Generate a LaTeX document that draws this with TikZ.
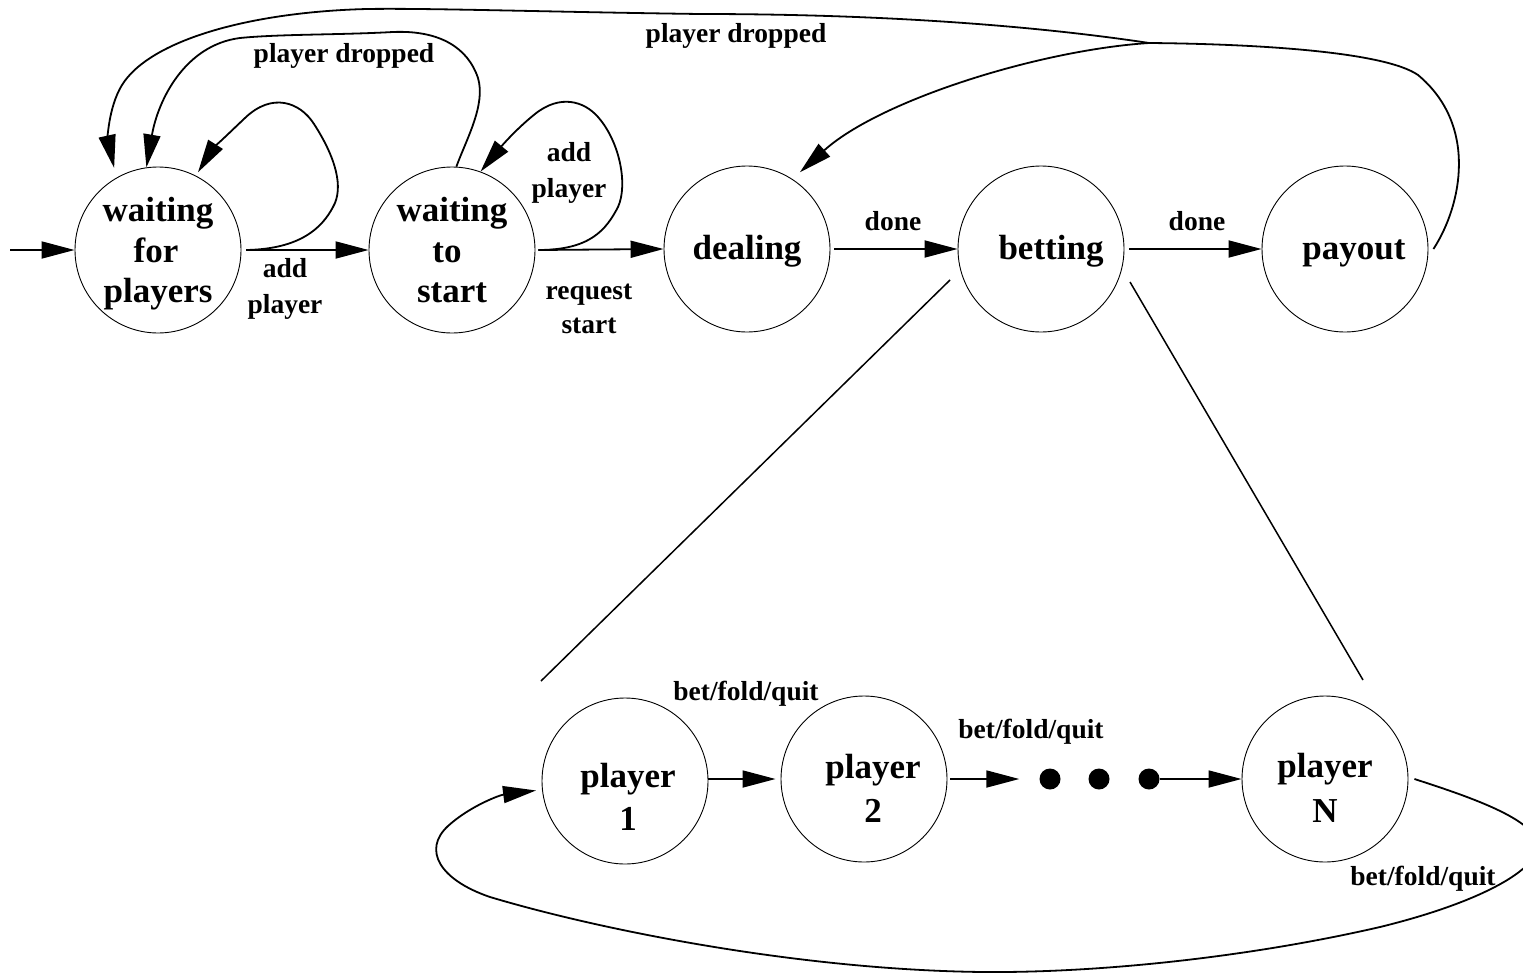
\documentclass[tikz,border=0pt]{standalone}
\usepackage{fontspec}
\setmainfont{Liberation Serif}
\usetikzlibrary{arrows.meta}
\begin{document}
\begin{tikzpicture}[x=1pt,y=-1pt,
 state/.style={draw,circle,line width=0.9pt,minimum size=166pt,inner sep=0pt},
 nl/.style={font=\fontsize{35}{41}\selectfont\bfseries,anchor=base,inner sep=0pt},
 el/.style={font=\fontsize{27.5}{35}\selectfont\bfseries,anchor=base,inner sep=0pt},
 conn/.style={line width=1.8pt,-{Triangle[length=33pt,width=17pt]}},
 wire/.style={line width=1.8pt},
 thin/.style={line width=1.5pt},
 dot/.style={circle,fill,minimum size=21pt,inner sep=0pt}]
\useasboundingbox (0,0) rectangle (1523,974);

% states
\node[state] (wfp) at (158,250) {};
\node[state] (wts) at (452,250) {};
\node[state] (deal) at (747,249) {};
\node[state] (bet) at (1041,249) {};
\node[state] (pay) at (1345,249) {};
\node[state] (p1) at (625,781) {};
\node[state] (p2) at (864,779) {};
\node[state] (pN) at (1325,779) {};
\node[dot] (d1) at (1050,779) {};
\node[dot] (d2) at (1099,779) {};
\node[dot] (d3) at (1149,779) {};

% state labels
\node[nl] (t1a) at (158,221) {waiting};
\node[nl] (t1b) at (156,262) {for};
\node[nl] (t1c) at (158,302) {players};
\node[nl] (t2a) at (452,221) {waiting};
\node[nl] (t2b) at (447,262) {to};
\node[nl] (t2c) at (452,302) {start};
\node[nl] (t3) at (747,259) {dealing};
\node[nl] (t4) at (1051,259) {betting};
\node[nl] (t5) at (1354,259) {payout};
\node[nl] (t6a) at (628,787) {player};
\node[nl] (t6b) at (628,830) {1};
\node[nl] (t7a) at (873,778) {player};
\node[nl] (t7b) at (873,822) {2};
\node[nl] (t8a) at (1325,777) {player};
\node[nl] (t8b) at (1325,822) {N};

% edge labels
\node[el] (e1a) at (285,277) {add};
\node[el] (e1b) at (285,313) {player};
\node[el] (e2a) at (569,161) {add};
\node[el] (e2b) at (569,197) {player};
\node[el] (e3a) at (589,299) {request};
\node[el] (e3b) at (589,333) {start};
\node[el] (e4) at (344,63) {player dropped};
\node[el] (e5) at (736,43) {player dropped};
\node[el] (e6) at (893,230) {done};
\node[el] (e7) at (1197,230) {done};
\node[el] (e8) at (746,700) {bet/fold/quit};
\node[el] (e9) at (1031,738) {bet/fold/quit};
\node[el] (e10) at (1423,885) {bet/fold/quit};

% initial arrow
\coordinate (init) at (10,250);
\draw[conn] (init) -- (wfp.west);

% waiting for players
\draw[conn] ([xshift=5pt]wfp.east) -- (wts.west);
\draw[conn,shorten >=4pt] ([xshift=5pt]wfp.east) .. controls (300,249) and (322,228) .. (333,207)
  .. controls (344,188) and (336,158) .. (314,124)
  .. controls (300,102) and (272,92) .. (245,118)
  .. controls (228,134) and (212,150) .. (wfp.63);

% waiting to start
\draw[conn] ([xshift=3pt]wts.east) -- (deal.west);
\draw[conn] ([xshift=3pt]wts.east) .. controls (590,250) and (606,230) .. (618,207)
  .. controls (628,185) and (620,142) .. (598,117)
  .. controls (584,101) and (560,94) .. (535,114)
  .. controls (515,130) and (500,148) .. (wts.70);
\draw[conn] (wts.87) .. controls (466,140) and (486,105) .. (478,78)
  .. controls (468,48) and (440,30) .. (393,32)
  .. controls (340,35) and (280,34) .. (240,38)
  .. controls (185,45) and (158,100) .. (wfp.98);

% main line
\draw[conn] ([xshift=4pt]deal.east) -- (bet.west);
\draw[conn] ([xshift=5pt]bet.east) -- (pay.west);

% payout back
\coordinate (J) at (1149,43);
\draw[wire] ([xshift=5pt]pay.east) .. controls (1462,205) and (1478,125) .. (1418,75)
  .. controls (1385,52) and (1260,44) .. (J);
\draw[conn,shorten >=10pt] (J) .. controls (1050,28) and (900,14) .. (700,14)
  .. controls (550,12) and (430,8) .. (367,9)
  .. controls (250,12) and (150,40) .. (122,85)
  .. controls (108,108) and (108,140) .. (wfp.120);
\draw[conn,shorten >=10pt] (J) .. controls (1040,50) and (880,100) .. (deal.57);

% zoom lines
\coordinate (z1) at (950,280);
\coordinate (z2) at (541,681);
\coordinate (z3) at (1130,282);
\coordinate (z4) at (1363,680);
\draw[thin] (z1) -- (z2);
\draw[thin] (z3) -- (z4);

% players
\draw[conn,shorten >=5pt] (p1.east |- p2.west) -- (p2.west);
\draw[conn,shorten >=20pt] ([xshift=3pt]p2.east) -- (d1.west);
\draw[conn] (d3.east) -- (pN.west);
\draw[conn,shorten >=6pt] ([xshift=6pt]pN.east) .. controls (1470,797) and (1545,822) .. (1537,850)
  .. controls (1530,875) and (1470,905) .. (1380,927)
  .. controls (1250,957) and (1100,973) .. (983,972)
  .. controls (800,970) and (600,930) .. (490,897)
  .. controls (440,880) and (422,850) .. (448,826)
  .. controls (470,806) and (500,795) .. (p1.186);
\end{tikzpicture}
\end{document}
